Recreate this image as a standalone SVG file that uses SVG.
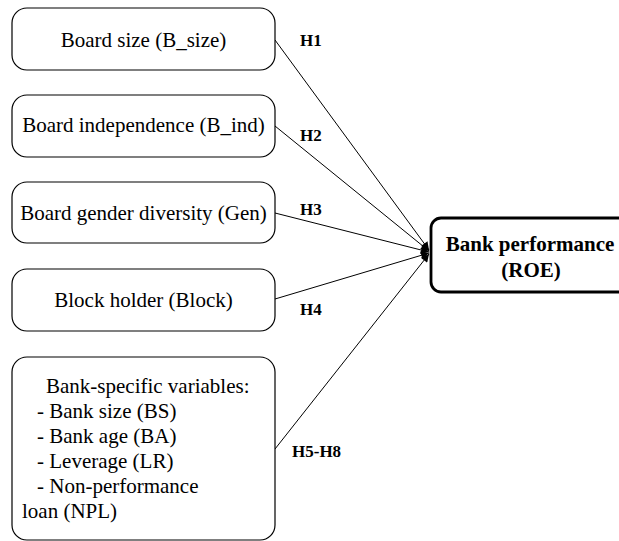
<svg xmlns="http://www.w3.org/2000/svg" width="619" height="541" viewBox="0 0 619 541">
<style>
.box{fill:#fff;stroke:#000;stroke-width:1.2}
.main{fill:#fff;stroke:#000;stroke-width:2.8}
text{font-family:'Liberation Serif','Times New Roman',Times,'DejaVu Serif',serif;fill:#000}
.t{font-size:21px}
.c{text-anchor:middle}
.b{font-weight:bold}
.h{font-size:17px;font-weight:bold}
.ln{stroke:#000;stroke-width:1;fill:none;marker-end:url(#ah)}
</style>
<defs>
<marker id="ah" viewBox="0 0 10 10" refX="10" refY="5" markerWidth="11" markerHeight="8" markerUnits="userSpaceOnUse" orient="auto">
<path d="M0,0 L10,5 L0,10 z" fill="#000"/>
</marker>
</defs>
<rect width="619" height="541" fill="#fff"/>
<g id="connectors">
<line class="ln" x1="275" y1="40" x2="429" y2="250"/>
<line class="ln" x1="275" y1="126" x2="429" y2="251"/>
<line class="ln" x1="275" y1="213" x2="429" y2="252"/>
<line class="ln" x1="275" y1="299" x2="429" y2="253"/>
<line class="ln" x1="275" y1="449" x2="429" y2="254"/>
<text class="h" x="300" y="46">H1</text>
<text class="h" x="300" y="141">H2</text>
<text class="h" x="300" y="215">H3</text>
<text class="h" x="300" y="315">H4</text>
<text class="h" x="292" y="457">H5-H8</text>
</g>
<g id="n1">
<rect class="box" x="12" y="8" width="263" height="62" rx="15"/>
<text class="t c" x="143.5" y="47">Board size (B_size)</text>
</g>
<g id="n2">
<rect class="box" x="12" y="95" width="263" height="62" rx="15"/>
<text class="t c" x="143.5" y="132">Board independence (B_ind)</text>
</g>
<g id="n3">
<rect class="box" x="12" y="182" width="263" height="61" rx="15"/>
<text class="t c" x="143.5" y="220">Board gender diversity (Gen)</text>
</g>
<g id="n4">
<rect class="box" x="12" y="269" width="263" height="62" rx="15"/>
<text class="t c" x="143.5" y="307">Block holder (Block)</text>
</g>
<g id="n5">
<rect class="box" x="12" y="357" width="263" height="183" rx="15"/>
<text class="t" x="46" y="393">Bank-specific variables:</text>
<text class="t" x="37" y="418">- Bank size (BS)</text>
<text class="t" x="37" y="443">- Bank age (BA)</text>
<text class="t" x="37" y="468">- Leverage (LR)</text>
<text class="t" x="37" y="493">- Non-performance</text>
<text class="t" x="22" y="518">loan (NPL)</text>
</g>
<g id="roe">
<rect class="main" x="431" y="218" width="200" height="74" rx="10"/>
<text class="t c b" x="530" y="251">Bank performance</text>
<text class="t c b" x="531" y="277">(ROE)</text>
</g>
</svg>
